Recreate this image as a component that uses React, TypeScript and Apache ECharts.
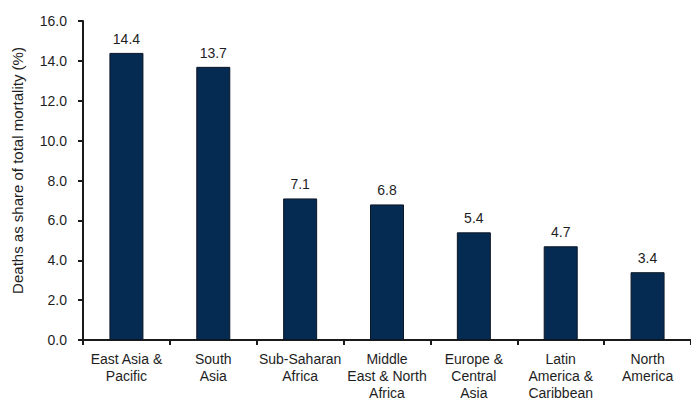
import React, { useEffect, useRef } from "react";
import * as echarts from "echarts";

const categories = [
  "East Asia &\nPacific",
  "South\nAsia",
  "Sub-Saharan\nAfrica",
  "Middle\nEast & North\nAfrica",
  "Europe &\nCentral\nAsia",
  "Latin\nAmerica &\nCaribbean",
  "North\nAmerica",
];
const values = [14.4, 13.7, 7.1, 6.8, 5.4, 4.7, 3.4];
const yTicks = { min: 0, max: 16, interval: 2 };
const yAxisName = "Deaths as share of total mortality (%)";

export default function App() {
  const ref = useRef<HTMLDivElement>(null);
  useEffect(() => {
    if (!ref.current) return;
    const chart = echarts.init(ref.current, undefined, { renderer: "svg" });
    const font = "'Liberation Sans', Arial, sans-serif";
    chart.setOption({
      animation: false,
      backgroundColor: "#ffffff",
      grid: { left: 83, top: 21, width: 616, height: 323, containLabel: false },
      xAxis: {
        type: "category",
        data: categories,
        boundaryGap: true,
        axisLine: { lineStyle: { color: "#1a1a1a", width: 2 } },
        axisTick: { show: true, length: 5, lineStyle: { color: "#1a1a1a", width: 2 } },
        axisLabel: {
          interval: 0,
          color: "#1e1e1e",
          fontFamily: font,
          fontSize: 14,
          lineHeight: 17,
          margin: 10,
        },
      },
      yAxis: {
        type: "value",
        min: yTicks.min,
        max: yTicks.max,
        interval: yTicks.interval,
        name: yAxisName,
        nameLocation: "middle",
        nameGap: 58,
        nameTextStyle: { color: "#1e1e1e", fontFamily: font, fontSize: 15, padding: [0, 0, 0, 20] },
        splitLine: { show: false },
        axisLine: { show: true, lineStyle: { color: "#1a1a1a", width: 2 } },
        axisTick: { show: true, length: 5, lineStyle: { color: "#1a1a1a", width: 2 } },
        axisLabel: {
          color: "#1e1e1e",
          fontFamily: font,
          fontSize: 14,
          margin: 16,
          formatter: (v: number) => v.toFixed(1),
        },
      },
      series: [
        {
          type: "bar",
          data: values,
          barWidth: 34,
          itemStyle: { color: "#062b52", borderColor: "#0b1626", borderWidth: 1 },
          label: {
            show: true,
            position: "top",
            distance: 7,
            color: "#1e1e1e",
            fontFamily: font,
            fontSize: 14,
            formatter: (p: any) => p.value.toFixed(1),
          },
        },
      ],
    });
    return () => chart.dispose();
  }, []);
  return <div ref={ref} style={{ width: 691, height: 401, position: "absolute", left: 0, top: 0 }} />;
}
